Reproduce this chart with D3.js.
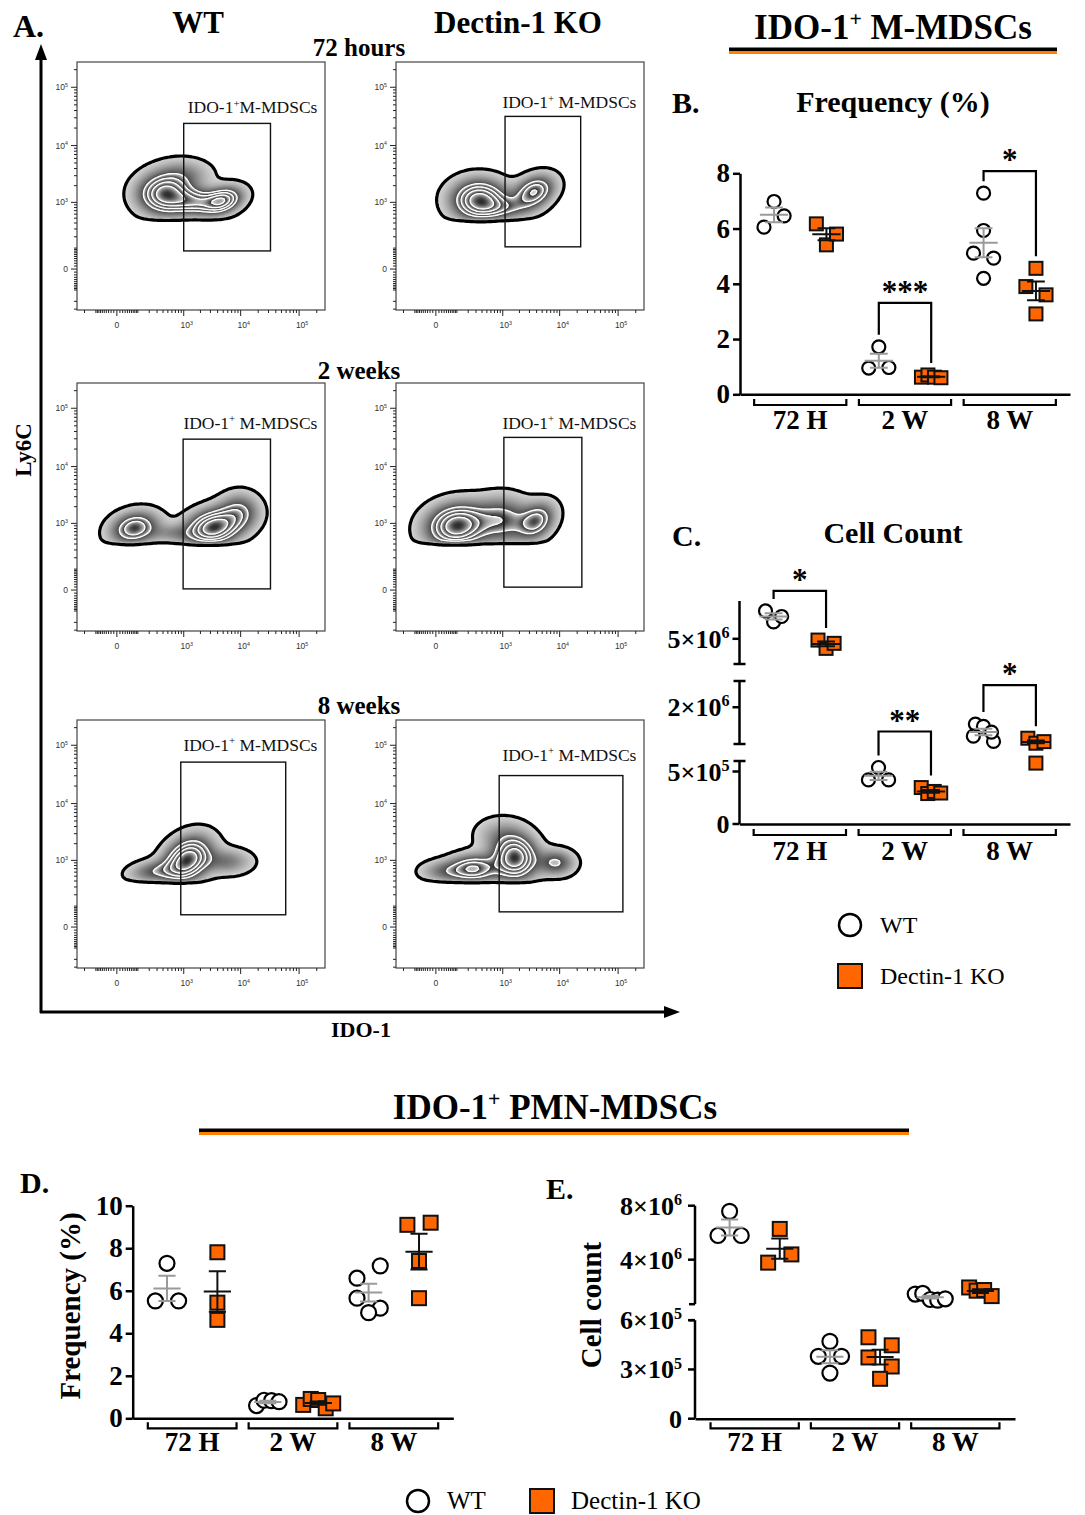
<!DOCTYPE html>
<html>
<head>
<meta charset="utf-8">
<script src="https://cdn.jsdelivr.net/npm/d3@7"></script>
<style>
  body { margin: 0; background: #fff; }
  svg { display: block; }
</style>
</head>
<body>
<svg id="fig" width="1085" height="1515"></svg>
<script>
// ---------------- data ----------------
const timepoints = ["72 H", "2 W", "8 W"];
const genotypes = ["WT", "Dectin-1 KO"];

// B. IDO-1+ M-MDSCs frequency (%)
const mFreqWT = [[6.98, 6.05, 6.46], [1.72, 0.95, 0.97], [7.28, 5.93, 5.11, 4.93, 4.20]];
const mFreqKO = [[6.17, 5.41, 5.80], [0.62, 0.70, 0.62, 0.60], [4.56, 3.90, 3.60, 2.91]];
const mFreqTicks = [0, 2, 4, 6, 8];
const mFreqSig = [["2 W", "***"], ["8 W", "*"]];

// C. IDO-1+ M-MDSCs cell count (broken axis)
const mCountWT = [[7.21e6, 6.34e6, 6.77e6], [5.38e5, 4.2e5, 4.2e5], [1.36e6, 1.27e6, 0.9e6, 0.7e6, 1.05e6]];
const mCountKO = [[4.90e6, 4.24e6, 4.64e6], [3.47e5, 2.90e5, 3.10e5, 2.95e5], [0.82e6, 0.63e6, 0.69e6, 0.58e6]];
const mCountSegs = [[0, 6e5], [6e5, 3e6], [3e6, 8e6]];
const mCountTicks = [0, 5e5, 2e6, 5e6];
const mCountSig = [["72 H", "*"], ["2 W", "**"], ["8 W", "*"]];

// D. IDO-1+ PMN-MDSCs frequency (%)
const pFreqWT = [[7.29, 5.52, 5.52], [0.60, 0.85, 0.83, 0.78], [6.59, 7.17, 5.65, 5.18, 4.97]];
const pFreqKO = [[7.81, 5.44, 4.63], [0.63, 0.91, 0.86, 0.47, 0.70], [9.10, 9.20, 7.40, 5.65]];
const pFreqTicks = [0, 2, 4, 6, 8, 10];

// E. IDO-1+ PMN-MDSCs cell count (broken axis)
const pCountWT = [[7.58e6, 5.79e6, 5.79e6], [4.71e5, 3.80e5, 3.80e5, 2.78e5], [1.45e6, 1.50e6, 1.05e6, 1.00e6, 1.10e6]];
const pCountKO = [[6.28e6, 3.78e6, 4.39e6], [4.96e5, 4.47e5, 3.73e5, 3.18e5, 2.43e5], [1.94e6, 1.70e6, 1.75e6, 1.30e6]];
const pCountSegs = [[0, 6e5], [7e5, 8e6]];
const pCountTicks = [0, 3e5, 6e5, 4e6, 8e6];

// A. flow plots (Ly6C vs IDO-1), populations in logicle display units:
// [centre IDO-1, centre Ly6C, sd x, sd y, correlation, weight]
const flowRows = ["72 hours", "2 weeks", "8 weeks"];
const popsWT = [
  [[0.82, 1.28, 0.29, 0.22, 0, 1.0], [1.80, 1.17, 0.22, 0.15, 0.3, 0.85], [1.33, 1.15, 0.25, 0.14, 0, 0.55], [1.15, 1.62, 0.30, 0.17, 0, 0.25]],
  [[0.30, 1.06, 0.26, 0.18, 0.2, 0.7], [1.65, 1.07, 0.30, 0.20, 0.2, 1.0], [2.10, 1.35, 0.22, 0.20, 0, 0.4], [0.95, 0.97, 0.25, 0.10, 0, 0.2]],
  [[1.20, 1.15, 0.26, 0.25, 0.3, 1.0], [0.62, 0.95, 0.27, 0.12, 0.2, 0.35], [1.88, 1.12, 0.27, 0.14, 0, 0.3]]
];
const popsKO = [
  [[0.74, 1.18, 0.30, 0.22, 0, 1.0], [1.68, 1.32, 0.22, 0.18, 0.3, 0.75], [1.20, 1.05, 0.30, 0.12, 0, 0.3]],
  [[0.36, 1.10, 0.33, 0.24, 0.1, 1.0], [1.72, 1.18, 0.20, 0.20, 0.3, 0.6], [1.15, 1.20, 0.30, 0.25, 0, 0.5]],
  [[0.65, 1.00, 0.26, 0.15, 0, 0.7], [1.35, 1.18, 0.24, 0.24, 0, 1.0], [2.05, 1.10, 0.20, 0.14, 0, 0.45], [0.15, 0.95, 0.26, 0.12, 0, 0.3], [1.10, 1.58, 0.28, 0.19, 0, 0.2]]
];
// lower Ly6C edge of the event cloud (display units)
const floorsWT = [0.84, 0.80, 0.78];
const floorsKO = [0.84, 0.81, 0.78];
// gates [x min, x max, y min, y max] in display units
const gatesWT = [[1.14, 2.62, 0.31, 2.49], [1.13, 2.62, 0.02, 2.58], [1.09, 2.88, 0.21, 2.82]];
const gatesKO = [[1.18, 2.47, 0.38, 2.61], [1.16, 2.49, 0.05, 2.61], [1.08, 3.19, 0.26, 2.59]];
const gateNamesWT = ["M-MDSCs", " M-MDSCs", " M-MDSCs"];
const gateNamesKO = [" M-MDSCs", " M-MDSCs", " M-MDSCs"];
const flowMajor = [0, 1e3, 1e4, 1e5];

// ---------------- helpers ----------------
const serif = '"Liberation Serif","Times New Roman",serif';
const sans = '"Liberation Sans",Arial,sans-serif';
const ORANGE = "#ff6600";
const svg = d3.select("#fig");

function label(g, x, y, parts, size, o = {}) {
  const t = g.append("text")
    .attr("x", x).attr("y", y)
    .attr("font-family", o.family || serif)
    .attr("font-size", size)
    .attr("font-weight", o.weight || "bold")
    .attr("text-anchor", o.anchor || "start")
    .attr("fill", o.fill || "#000");
  if (o.rotate) t.attr("transform", `rotate(${o.rotate},${x},${y})`);
  let raised = false;
  parts.forEach(p => {
    const sup = Array.isArray(p);
    const s = sup ? p[0] : p;
    const ts = t.append("tspan").text(s);
    if (sup) { ts.attr("font-size", size * 0.62).attr("dy", -size * 0.38); raised = true; }
    else if (raised) { ts.attr("dy", size * 0.38); raised = false; }
  });
  return t;
}

// ---------------- panel A: flow plots ----------------
const FL = {box: 248, uMin: -0.68, uMax: 3.55, vMin: -0.70, vMax: 3.54};
const logicle = v => Math.sign(v) * Math.log10(1 + Math.abs(v) / 78);
const flowMinor = [];
[10, 100, 1e3, 1e4, 1e5].forEach(dec => {
  for (let k = 1; k <= 9; k++) {
    const v = k * dec;
    if (!flowMajor.includes(v)) flowMinor.push(v);
    if (dec <= 100) flowMinor.push(-v);
  }
});

function flowPanel(px, py, pops, floor, gate, gateName, labelV) {
  const g = svg.append("g").attr("transform", `translate(${px},${py})`);
  const x = d3.scaleLinear().domain([FL.uMin, FL.uMax]).range([0, FL.box]);
  const y = d3.scaleLinear().domain([FL.vMin, FL.vMax]).range([FL.box, 0]);

  // density grid
  const n = 124, cell = FL.box / n;
  const vals = new Float64Array(n * n);
  let mx = 0;
  for (let j = 0; j < n; j++) for (let i = 0; i < n; i++) {
    const u = x.invert((i + 0.5) * cell), v = y.invert((j + 0.5) * cell);
    let s = 0;
    for (const [cx, cy, sx, sy, rho, w] of pops) {
      const dx = (u - cx) / sx, dy = (v - cy) / sy;
      s += w * Math.exp(-(dx * dx - 2 * rho * dx * dy + dy * dy) / (2 * (1 - rho * rho)));
    }
    s *= 1 / (1 + Math.exp(-(v - floor) / 0.02));
    vals[i + j * n] = s;
    if (s > mx) mx = s;
  }
  for (let k = 0; k < vals.length; k++) vals[k] /= mx;

  const bands = [0.05, 0.42, 0.56, 0.70, 0.84, 1.0];
  const levels = [], colors = [];
  for (let b = 0; b < bands.length - 1; b++) {
    const nsub = 16;
    for (let s = 0; s < nsub; s++) {
      const t = s / nsub;
      levels.push(bands[b] + (bands[b + 1] - bands[b]) * t);
      const gv = Math.round(b === 0 ? 210 - 140 * t : 220 - 185 * t);
      colors.push(d3.rgb(gv, gv, gv).toString());
    }
  }
  const path = d3.geoPath(d3.geoIdentity().scale(cell));
  g.append("g").selectAll("path")
    .data(d3.contours().size([n, n]).thresholds(levels)(vals))
    .join("path").attr("d", path).attr("fill", (d, i) => colors[i])
    .attr("stroke", (d, i) => colors[i]).attr("stroke-width", 0.4);
  g.append("g").selectAll("path")
    .data(d3.contours().size([n, n]).thresholds(bands.slice(1, -1))(vals))
    .join("path").attr("d", path).attr("fill", "none").attr("stroke", "#fff").attr("stroke-width", 1.3);
  g.append("g").selectAll("path")
    .data(d3.contours().size([n, n]).thresholds([bands[0]])(vals))
    .join("path").attr("d", path).attr("fill", "none").attr("stroke", "#000").attr("stroke-width", 3.2);

  // frame
  g.append("rect").attr("width", FL.box).attr("height", FL.box)
    .attr("fill", "none").attr("stroke", "#444").attr("stroke-width", 1.2);

  // gate
  g.append("rect")
    .attr("x", x(gate[0])).attr("y", y(gate[3]))
    .attr("width", x(gate[1]) - x(gate[0])).attr("height", y(gate[2]) - y(gate[3]))
    .attr("fill", "none").attr("stroke", "#111").attr("stroke-width", 1.4);
  label(g, x(3.42), y(labelV), ["IDO-1", ["+"], gateName], 17.5, {weight: "normal", anchor: "end", fill: "#111"});

  // ticks
  const tk = g.append("g").attr("stroke", "#222").attr("stroke-width", 1);
  flowMinor.concat(flowMajor).forEach(v => {
    const u = logicle(v);
    const len = flowMajor.includes(v) ? 6 : 3;
    if (u > FL.uMin && u < FL.uMax)
      tk.append("line").attr("x1", x(u)).attr("x2", x(u)).attr("y1", FL.box).attr("y2", FL.box + len);
    if (u > FL.vMin && u < FL.vMax)
      tk.append("line").attr("y1", y(u)).attr("y2", y(u)).attr("x1", 0).attr("x2", -len);
  });
  flowMajor.forEach(v => {
    const u = logicle(v);
    const parts = v === 0 ? ["0"] : ["10", [String(Math.round(Math.log10(v)))]];
    label(g, x(u) + (v === 0 ? 0 : 3), FL.box + 18, parts, 8.5, {family: sans, weight: "normal", anchor: "middle", fill: "#333"});
    label(g, -9, y(u) + 3, parts, 8.5, {family: sans, weight: "normal", anchor: "end", fill: "#333"});
  });
}

const flowCols = [77, 396];
const flowTops = [62, 383, 720];
const labelVWT = [2.66, 2.76, 3.01];
const labelVKO = [2.75, 2.76, 2.84];
flowRows.forEach((r, i) => {
  flowPanel(flowCols[0], flowTops[i], popsWT[i], floorsWT[i], gatesWT[i], gateNamesWT[i], labelVWT[i]);
  flowPanel(flowCols[1], flowTops[i], popsKO[i], floorsKO[i], gatesKO[i], gateNamesKO[i], labelVKO[i]);
});

// panel A labels and arrows
label(svg, 13, 37, ["A."], 32);
label(svg, 198, 33, ["WT"], 31, {anchor: "middle"});
label(svg, 518, 33, ["Dectin-1 KO"], 31, {anchor: "middle"});
[56, 379, 714].forEach((yy, i) => label(svg, 359, yy, [flowRows[i]], 25, {anchor: "middle"}));
svg.append("line").attr("x1", 41).attr("x2", 41).attr("y1", 1013).attr("y2", 56).attr("stroke", "#000").attr("stroke-width", 3);
svg.append("path").attr("d", "M41,44 L35,60 L47,60 Z").attr("fill", "#000");
svg.append("line").attr("x1", 40).attr("x2", 666).attr("y1", 1012).attr("y2", 1012).attr("stroke", "#000").attr("stroke-width", 3);
svg.append("path").attr("d", "M680,1012 L664,1006 L664,1018 Z").attr("fill", "#000");
label(svg, 31, 450, ["Ly6C"], 23, {anchor: "middle", rotate: -90});
label(svg, 361, 1037, ["IDO-1"], 22, {anchor: "middle"});

// ---------------- scatter panels ----------------
function brokenScale(segs, bottom, segH, gap) {
  const scales = segs.map((dom, k) => d3.scaleLinear().domain(dom)
    .range([bottom - k * (segH + gap), bottom - k * (segH + gap) - segH]));
  const f = v => {
    for (let k = scales.length - 1; k >= 0; k--) if (v >= segs[k][0]) return scales[k](v);
    return scales[0](v);
  };
  f.scales = scales;
  return f;
}

function swarm(vals, y, d) {
  const pts = vals.map((v, i) => ({v, i, py: y(v), dx: 0}));
  const rows = [];
  let cur = null;
  pts.slice().sort((a, b) => a.py - b.py).forEach(p => {
    if (!cur || p.py - cur[0].py > 0.9 * d) { cur = [p]; rows.push(cur); }
    else cur.push(p);
  });
  rows.forEach(row => {
    row.sort((a, b) => a.i - b.i);
    const k = row.length, sp = k === 2 ? 1.55 * d : (k === 3 ? 0.62 * d : 0.5 * d);
    row.forEach((p, j) => p.dx = (j - (k - 1) / 2) * sp);
  });
  return pts;
}

function scatterPanel(c) {
  const keys = [];
  timepoints.forEach(tp => genotypes.forEach(gn => keys.push(tp + "|" + gn)));
  const x = d3.scalePoint().domain(keys).range([c.x0, c.x1]).padding(c.pad);
  const step = x.step();
  const y = c.y;
  const g = svg.append("g");

  // x axis line
  g.append("g").attr("transform", `translate(0,${y(0)})`)
    .call(d3.axisBottom(x).tickValues([]).tickSizeOuter(0))
    .call(a => a.select(".domain").attr("stroke-width", 2.5));

  // group brackets
  timepoints.forEach(tp => {
    const xl = x(tp + "|WT") - 0.38 * step, xr = x(tp + "|Dectin-1 KO") + 0.38 * step;
    g.append("path").attr("d", `M${xl},${c.bracketY - 6}V${c.bracketY}H${xr}V${c.bracketY - 6}`)
      .attr("fill", "none").attr("stroke", "#000").attr("stroke-width", 2.2);
    label(g, (xl + xr) / 2, c.labelY, [tp], 27, {anchor: "middle"});
  });

  const d = c.r * 2;
  const groups = [];
  timepoints.forEach((tp, ti) => {
    [[c.wt[ti], "WT"], [c.ko[ti], "Dectin-1 KO"]].forEach(([vals, gn]) => {
      const cx = x(tp + "|" + gn);
      const pts = swarm(vals, y, d);
      groups.push({tp, gn, cx, pts, vals});
    });
  });

  // points
  groups.forEach(gr => {
    gr.pts.forEach(p => {
      if (gr.gn === "WT") {
        g.append("circle").attr("cx", gr.cx + p.dx).attr("cy", p.py).attr("r", c.r)
          .attr("fill", "#fff").attr("stroke", "#000").attr("stroke-width", 2.2);
      } else {
        g.append("rect").attr("x", gr.cx + p.dx - c.sq / 2).attr("y", p.py - c.sq / 2)
          .attr("width", c.sq).attr("height", c.sq)
          .attr("fill", ORANGE).attr("stroke", "#111").attr("stroke-width", 2);
      }
    });
  });

  // mean +/- SEM
  groups.forEach(gr => {
    const m = d3.mean(gr.vals), sem = d3.deviation(gr.vals) / Math.sqrt(gr.vals.length);
    const col = gr.gn === "WT" ? "#9a9a9a" : "#111";
    const hw = 0.27 * step, cw = 0.17 * step;
    g.append("path")
      .attr("d", `M${gr.cx - hw},${y(m)}H${gr.cx + hw}M${gr.cx},${y(m + sem)}V${y(m - sem)}` +
        `M${gr.cx - cw},${y(m + sem)}H${gr.cx + cw}M${gr.cx - cw},${y(m - sem)}H${gr.cx + cw}`)
      .attr("fill", "none").attr("stroke", col).attr("stroke-width", 2);
  });

  // significance
  (c.sig || []).forEach(([tp, lab], k) => {
    const gw = groups.find(q => q.tp === tp && q.gn === "WT");
    const gk = groups.find(q => q.tp === tp && q.gn === "Dectin-1 KO");
    const lf = d3.min(gw.pts, p => p.py) - 12, rf = d3.min(gk.pts, p => p.py) - 12;
    const top = Math.min(lf, rf) - c.rise[k];
    g.append("path").attr("d", `M${gw.cx},${lf}V${top}H${gk.cx}V${rf}`)
      .attr("fill", "none").attr("stroke", "#000").attr("stroke-width", 2.2);
    label(g, (gw.cx + gk.cx) / 2, top - 1, [lab], 31, {anchor: "middle"});
  });
  return g;
}

function sciParts(v) {
  if (v === 0) return ["0"];
  const e = Math.floor(Math.log10(v) + 1e-9);
  return [Math.round(v / Math.pow(10, e)) + "×10", [String(e)]];
}

function linearAxis(x, y, ticks) {
  svg.append("g").attr("transform", `translate(${x},0)`)
    .call(d3.axisLeft(y).tickValues(ticks).tickSize(7).tickSizeOuter(0).tickPadding(3))
    .call(a => a.attr("font-family", serif).attr("font-size", 27).attr("font-weight", "bold"))
    .call(a => a.selectAll("path,line").attr("stroke-width", 2.5))
    .call(a => a.selectAll("text").attr("fill", "#000"));
}

function brokenAxis(x, y, ticks, bothCaps, labelOffset) {
  const g = svg.append("g");
  y.scales.forEach((s, k) => {
    const [r0, r1] = s.range();
    g.append("line").attr("x1", x).attr("x2", x).attr("y1", r0).attr("y2", r1).attr("stroke", "#000").attr("stroke-width", 2.5);
    const ends = [];
    if (k > 0) ends.push(r0);
    if (k < y.scales.length - 1) ends.push(r1);
    ends.forEach(e => g.append("line").attr("x1", x - 6).attr("x2", bothCaps ? x + 6 : x)
      .attr("y1", e).attr("y2", e).attr("stroke", "#000").attr("stroke-width", 2.5));
  });
  ticks.forEach(v => {
    const yy = y(v);
    g.append("line").attr("x1", x - 7).attr("x2", x).attr("y1", yy).attr("y2", yy).attr("stroke", "#000").attr("stroke-width", 2.5);
    label(g, x - labelOffset, yy + 9, sciParts(v), 26, {anchor: "end"});
  });
}

// B
const yB = d3.scaleLinear().domain([0, 8]).range([394.3, 173.3]);
linearAxis(740, yB, mFreqTicks);
scatterPanel({x0: 740, x1: 1070, pad: 0.65, y: yB, wt: mFreqWT, ko: mFreqKO, r: 6.5, sq: 13,
  bracketY: 405, labelY: 429, sig: mFreqSig, rise: [32, 10]});

// C
const yC = brokenScale(mCountSegs, 824, 63, 17);
brokenAxis(739.5, yC, mCountTicks, true, 10);
scatterPanel({x0: 739.5, x1: 1070, pad: 0.65, y: yC, wt: mCountWT, ko: mCountKO, r: 6.5, sq: 13,
  bracketY: 835, labelY: 860, sig: mCountSig, rise: [8, 24, 27]});

// D
const yD = d3.scaleLinear().domain([0, 10]).range([1418.3, 1205.7]);
linearAxis(132.7, yD, pFreqTicks);
scatterPanel({x0: 132.7, x1: 453.3, pad: 0.68, y: yD, wt: pFreqWT, ko: pFreqKO, r: 7.5, sq: 14,
  bracketY: 1428.3, labelY: 1451});

// E
const yE = brokenScale(pCountSegs, 1418.7, 98.5, 16);
brokenAxis(695, yE, pCountTicks, false, 13);
scatterPanel({x0: 695, x1: 1015, pad: 0.69, y: yE, wt: pCountWT, ko: pCountKO, r: 7.5, sq: 14,
  bracketY: 1428.3, labelY: 1451});

// ---------------- titles & legends ----------------
label(svg, 893, 39, ["IDO-1", ["+"], " M-MDSCs"], 35, {anchor: "middle"});
svg.append("rect").attr("x", 729).attr("y", 47.5).attr("width", 328).attr("height", 3.5).attr("fill", "#000");
svg.append("rect").attr("x", 729).attr("y", 51).attr("width", 328).attr("height", 3).attr("fill", "#ff7f00");
label(svg, 672, 113, ["B."], 30);
label(svg, 893, 112, ["Frequency (%)"], 30, {anchor: "middle"});
label(svg, 672, 546, ["C."], 30);
label(svg, 893, 543, ["Cell Count"], 30, {anchor: "middle"});

svg.append("circle").attr("cx", 850).attr("cy", 925).attr("r", 11).attr("fill", "#fff").attr("stroke", "#000").attr("stroke-width", 2.5);
label(svg, 880, 933, [genotypes[0]], 24, {weight: "normal"});
svg.append("rect").attr("x", 838).attr("y", 964).attr("width", 24).attr("height", 24).attr("fill", ORANGE).attr("stroke", "#111").attr("stroke-width", 2);
label(svg, 880, 984, [genotypes[1]], 24, {weight: "normal"});

label(svg, 555, 1119, ["IDO-1", ["+"], " PMN-MDSCs"], 35, {anchor: "middle"});
svg.append("rect").attr("x", 199).attr("y", 1128.5).attr("width", 710).attr("height", 3.5).attr("fill", "#000");
svg.append("rect").attr("x", 199).attr("y", 1132).attr("width", 710).attr("height", 3).attr("fill", "#ff7f00");
label(svg, 20, 1193, ["D."], 30);
label(svg, 546, 1199, ["E."], 30);
label(svg, 80, 1306, ["Frequency (%)"], 29, {anchor: "middle", rotate: -90});
label(svg, 601, 1305, ["Cell count"], 29, {anchor: "middle", rotate: -90});

svg.append("circle").attr("cx", 418).attr("cy", 1501).attr("r", 11).attr("fill", "#fff").attr("stroke", "#000").attr("stroke-width", 2.5);
label(svg, 447, 1509, [genotypes[0]], 25, {weight: "normal"});
svg.append("rect").attr("x", 530).attr("y", 1489).attr("width", 24).attr("height", 24).attr("fill", ORANGE).attr("stroke", "#111").attr("stroke-width", 2);
label(svg, 571, 1509, [genotypes[1]], 25, {weight: "normal"});
</script>
</body>
</html>
